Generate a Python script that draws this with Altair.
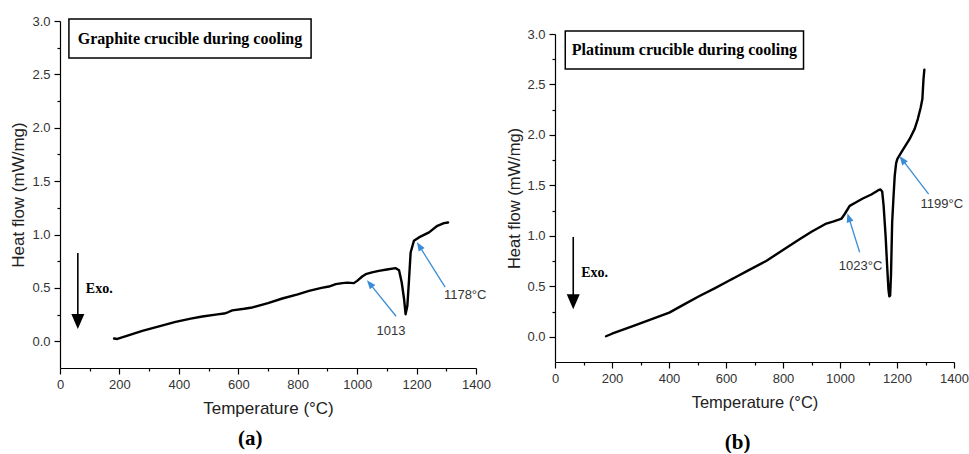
import math
import altair as alt
import pandas as pd

# ---------------- data ----------------
# (a) graphite crucible, cooling
temp_a = [182, 193, 230, 277, 330, 389, 440, 479, 530, 552, 565, 580, 620, 647, 700, 748,
          800, 838, 880, 905, 928, 950, 967, 989, 1000, 1017, 1029, 1050, 1073, 1100, 1130,
          1141, 1150, 1158, 1163, 1169, 1174, 1180, 1191, 1208, 1242, 1270, 1292, 1306]
hf_a = [0.026, 0.022, 0.055, 0.098, 0.137, 0.182, 0.212, 0.232, 0.252, 0.260, 0.272, 0.290,
        0.305, 0.317, 0.358, 0.401, 0.440, 0.472, 0.500, 0.513, 0.535, 0.545, 0.550, 0.545,
        0.566, 0.607, 0.629, 0.645, 0.660, 0.673, 0.685, 0.665, 0.551, 0.394, 0.254, 0.332,
        0.551, 0.832, 0.941, 0.973, 1.020, 1.082, 1.107, 1.113]

# (b) platinum crucible, cooling
temp_b = [179, 200, 273, 330, 401, 450, 507, 560, 610, 624, 630, 680, 741, 800, 858, 900,
          952, 975, 996, 1005, 1016, 1034, 1055, 1080, 1110, 1133, 1142, 1148, 1153, 1160,
          1166, 1170, 1173, 1176, 1179, 1183, 1188, 1192, 1197, 1201, 1215, 1244, 1262, 1273,
          1283, 1289, 1293, 1296]
hf_b = [0.005, 0.030, 0.106, 0.165, 0.239, 0.316, 0.404, 0.480, 0.555, 0.576, 0.585, 0.660,
        0.751, 0.860, 0.966, 1.040, 1.122, 1.140, 1.160, 1.170, 1.214, 1.297, 1.330, 1.370,
        1.410, 1.450, 1.460, 1.440, 1.300, 1.000, 0.670, 0.470, 0.400, 0.410, 0.620, 1.130,
        1.400, 1.594, 1.720, 1.760, 1.826, 1.958, 2.060, 2.157, 2.270, 2.355, 2.554, 2.646]

x_ticks = list(range(0, 1401, 100))
y_ticks = [i * 0.25 for i in range(13)]
x_domain = [0, 1400]
y_domain = [-0.25, 3.0]

box_texts = ["Graphite crucible during cooling", "Platinum crucible during cooling"]
box_x = [[30, 845], [36, 872]]
box_y = [[2.653, 3.019], [2.653, 3.03]]
letters = ["(a)", "(b)"]

exo_text = "Exo."
exo_tail = [(60, 0.826), (64, 0.989)]
exo_tip = [(60, 0.115), (64, 0.272)]
exo_label = [(87, 0.488), (92, 0.629)]

ann_text = [["1013", "1178°C"], ["1023°C", "1199°C"]]
ann_tail = [[(1131, 0.235), (1296, 0.507)], [(1069, 0.837), (1311, 1.413)]]
ann_tip = [[(1033, 0.573), (1201, 0.929)], [(1026, 1.224), (1209, 1.790)]]
ann_label = [[(1114, 0.095), (1292, 0.432)], [(1072, 0.698), (1357, 1.313)]]
ann_align = [["center", "left"], ["center", "center"]]

SANS = "Liberation Sans"
SERIF = "Liberation Serif"
BLUE = "#3a8dd4"
HEAD_PATH = "M0,-1L{w},1L-{w},1Z"


def arrow_parts(tail, tip, head_len, sx, sy):
    dxp = (tip[0] - tail[0]) * sx
    dyp = -(tip[1] - tail[1]) * sy
    L = math.hypot(dxp, dyp)
    ux, uy = dxp / L, dyp / L
    ang = math.degrees(math.atan2(ux, -uy)) % 360
    cx = tip[0] - ux * head_len / 2 / sx
    cy = tip[1] + uy * head_len / 2 / sy
    return (cx, cy), ang


def panel(i, temp, hf, width, height, title_size, letter_offset):
    sx = width / (x_domain[1] - x_domain[0])
    sy = height / (y_domain[1] - y_domain[0])

    x_axis = alt.Axis(
        values=x_ticks, title="Temperature (°C)", format="d",
        labelExpr="datum.value % 200 === 0 ? datum.label : ''",
        tickSize={"condition": {"test": "datum.value % 200 === 0", "value": 6}, "value": 3},
        labelFlush=False, labelOverlap=False, grid=False,
        domainColor="#000", tickColor="#000", domainWidth=1.2, tickWidth=1.2,
        labelFont=SANS, labelFontSize=13, labelColor="#333", labelPadding=4,
        titleFont=SANS, titleFontSize=title_size, titleFontWeight="normal",
        titleColor="#222", titlePadding=9,
    )
    y_axis = alt.Axis(
        values=y_ticks, title="Heat flow (mW/mg)", format=".1f",
        labelExpr="abs(datum.value*2 - round(datum.value*2)) < 0.001 ? datum.label : ''",
        tickSize={"condition": {"test": "abs(datum.value*2 - round(datum.value*2)) < 0.001",
                                "value": 6}, "value": 3},
        labelFlush=False, labelOverlap=False, grid=False,
        domainColor="#000", tickColor="#000", domainWidth=1.2, tickWidth=1.2,
        labelFont=SANS, labelFontSize=13, labelColor="#333", labelPadding=4,
        titleFont=SANS, titleFontSize=title_size, titleFontWeight="normal",
        titleColor="#222", titlePadding=4,
    )

    def xs(field="x"):
        return alt.X(f"{field}:Q", scale=alt.Scale(domain=x_domain, nice=False, zero=False),
                     axis=x_axis)

    def ys(field="y"):
        return alt.Y(f"{field}:Q", scale=alt.Scale(domain=y_domain, nice=False, zero=False),
                     axis=y_axis)

    curve = alt.Chart(pd.DataFrame({"x": temp, "y": hf})).mark_line(
        color="black", strokeWidth=2.4, strokeJoin="round", strokeCap="round"
    ).encode(x=xs(), y=ys(), order="x:Q")

    box_df = pd.DataFrame({"x": [box_x[i][0]], "x2": [box_x[i][1]],
                           "y": [box_y[i][0]], "y2": [box_y[i][1]],
                           "tx": [sum(box_x[i]) / 2], "ty": [sum(box_y[i]) / 2],
                           "t": [box_texts[i]]})
    box = alt.Chart(box_df).mark_rect(fill="white", stroke="black", strokeWidth=1.5).encode(
        x=xs(), x2="x2:Q", y=ys(), y2="y2:Q")
    box_label = alt.Chart(box_df).mark_text(
        font=SERIF, fontSize=16, fontWeight="bold", color="black", align="center",
        baseline="middle").encode(x=xs("tx"), y=ys("ty"), text="t:N")

    # Exo. arrow
    ehead = 15
    (ecx, ecy), eang = arrow_parts(exo_tail[i], exo_tip[i], ehead, sx, sy)
    exo_df = pd.DataFrame({"x": [exo_tail[i][0]], "y": [exo_tail[i][1]],
                           "x2": [ecx], "y2": [ecy], "ang": [eang],
                           "lx": [exo_label[i][0]], "ly": [exo_label[i][1]], "t": [exo_text]})
    exo_shaft = alt.Chart(exo_df).mark_rule(color="black", strokeWidth=1.6).encode(
        x=xs(), y=ys(), x2="x2:Q", y2="y2:Q")
    exo_head = alt.Chart(exo_df).mark_point(
        shape=HEAD_PATH.format(w=0.87), filled=True, color="black", opacity=1,
        size=ehead ** 2, strokeWidth=0).encode(x=xs("x2"), y=ys("y2"),
                                               angle=alt.Angle("ang:Q", scale=None))
    exo_lab = alt.Chart(exo_df).mark_text(
        font=SERIF, fontSize=14, fontWeight="bold", color="black", align="left",
        baseline="middle").encode(x=xs("lx"), y=ys("ly"), text="t:N")

    # blue annotation arrows
    bhead = 9
    rows = []
    for k in range(len(ann_text[i])):
        (cx, cy), ang = arrow_parts(ann_tail[i][k], ann_tip[i][k], bhead, sx, sy)
        rows.append({"x": ann_tail[i][k][0], "y": ann_tail[i][k][1], "x2": cx, "y2": cy,
                     "ang": ang, "lx": ann_label[i][k][0], "ly": ann_label[i][k][1],
                     "t": ann_text[i][k], "al": ann_align[i][k]})
    ann_df = pd.DataFrame(rows)
    ann_shaft = alt.Chart(ann_df).mark_rule(color=BLUE, strokeWidth=1.3).encode(
        x=xs(), y=ys(), x2="x2:Q", y2="y2:Q")
    ann_head = alt.Chart(ann_df).mark_point(
        shape=HEAD_PATH.format(w=0.78), filled=True, color=BLUE, opacity=1,
        size=bhead ** 2, strokeWidth=0).encode(x=xs("x2"), y=ys("y2"),
                                               angle=alt.Angle("ang:Q", scale=None))
    layers = [curve, box, box_label, exo_shaft, exo_head, exo_lab, ann_shaft, ann_head]
    for al in sorted(set(ann_align[i])):
        sub = ann_df[ann_df["al"] == al]
        layers.append(alt.Chart(sub).mark_text(
            font=SANS, fontSize=13, color="#333", align=al, baseline="middle"
        ).encode(x=xs("lx"), y=ys("ly"), text="t:N"))

    return alt.layer(*layers).properties(
        width=width, height=height,
        title=alt.TitleParams(letters[i], orient="bottom", font=SERIF, fontSize=21,
                              fontWeight="bold", color="black", anchor="middle",
                              frame="bounds", offset=letter_offset),
    )


left = panel(0, temp_a, hf_a, 416, 347, 17, 12)
right = panel(1, temp_b, hf_b, 399, 328, 16.5, 21)

spacer = alt.Chart(pd.DataFrame({"a": [0]})).mark_point(size=0, opacity=0).encode(
    x=alt.X("a:Q", axis=None), y=alt.Y("a:Q", axis=None)
).properties(width=1, height=7)

right_block = alt.vconcat(spacer, right, spacing=0)

chart = alt.hconcat(left, right_block, spacing=15).properties(
    padding={"left": 9, "top": 15, "right": 0, "bottom": 0}
).configure_view(stroke=None).configure_axis(grid=False)

chart.save("out.html", embed_options={"renderer": "svg", "actions": False})
